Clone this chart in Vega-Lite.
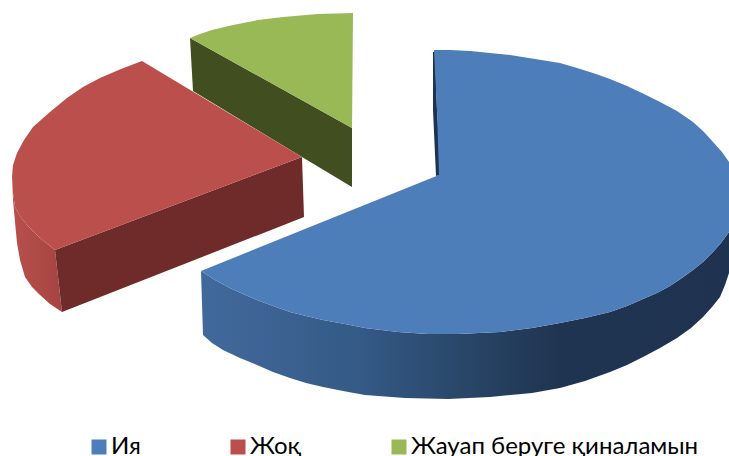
{"$schema":"https://vega.github.io/schema/vega-lite/v6.json","width":729,"height":456,"padding":0,"autosize":{"type":"fit","contains":"padding"},"background":"white","config":{"view":{"stroke":null}},
"datasets":{"outline":[
{"part":"gd","slice":"Жауап беруге қиналамын","i":0,"x":190,"y":38},{"part":"gd","slice":"Жауап беруге қиналамын","i":1,"x":352,"y":128},{"part":"gd","slice":"Жауап беруге қиналамын","i":2,"x":352,"y":187},{"part":"gd","slice":"Жауап беруге қиналамын","i":3,"x":302,"y":157},{"part":"gd","slice":"Жауап беруге қиналамын","i":4,"x":193,"y":91},
{"part":"rf","slice":"Жоқ","i":0,"x":55,"y":250},{"part":"rf","slice":"Жоқ","i":1,"x":302,"y":157},{"part":"rf","slice":"Жоқ","i":2,"x":304,"y":217},{"part":"rf","slice":"Жоқ","i":3,"x":62,"y":312},
{"part":"rl","slice":"Жоқ","i":0,"x":12,"y":177},{"part":"rl","slice":"Жоқ","i":1,"x":13,"y":193},{"part":"rl","slice":"Жоқ","i":2,"x":15,"y":207},{"part":"rl","slice":"Жоқ","i":3,"x":20,"y":216},{"part":"rl","slice":"Жоқ","i":4,"x":27,"y":225},{"part":"rl","slice":"Жоқ","i":5,"x":40,"y":238},{"part":"rl","slice":"Жоқ","i":6,"x":55,"y":250},{"part":"rl","slice":"Жоқ","i":7,"x":62,"y":312},{"part":"rl","slice":"Жоқ","i":8,"x":50,"y":304},{"part":"rl","slice":"Жоқ","i":9,"x":40,"y":295},{"part":"rl","slice":"Жоқ","i":10,"x":32,"y":287},{"part":"rl","slice":"Жоқ","i":11,"x":25,"y":277},{"part":"rl","slice":"Жоқ","i":12,"x":20,"y":260},{"part":"rl","slice":"Жоқ","i":13,"x":17,"y":243},{"part":"rl","slice":"Жоқ","i":14,"x":15,"y":222},{"part":"rl","slice":"Жоқ","i":15,"x":13,"y":200},
{"part":"bs","slice":"Ия","i":0,"x":433,"y":52},{"part":"bs","slice":"Ия","i":1,"x":433,"y":110},{"part":"bs","slice":"Ия","i":2,"x":436,"y":176},{"part":"bs","slice":"Ия","i":3,"x":441,"y":175},{"part":"bs","slice":"Ия","i":4,"x":437,"y":110},{"part":"bs","slice":"Ия","i":5,"x":435,"y":52},
{"part":"bo","slice":"Ия","i":0,"x":201,"y":271},{"part":"bo","slice":"Ия","i":1,"x":215,"y":280},{"part":"bo","slice":"Ия","i":2,"x":230,"y":288},{"part":"bo","slice":"Ия","i":3,"x":243,"y":294},{"part":"bo","slice":"Ия","i":4,"x":257,"y":300},{"part":"bo","slice":"Ия","i":5,"x":273,"y":306},{"part":"bo","slice":"Ия","i":6,"x":290,"y":312},{"part":"bo","slice":"Ия","i":7,"x":306,"y":316},{"part":"bo","slice":"Ия","i":8,"x":323,"y":320},{"part":"bo","slice":"Ия","i":9,"x":345,"y":324},{"part":"bo","slice":"Ия","i":10,"x":365,"y":328},{"part":"bo","slice":"Ия","i":11,"x":398,"y":332},{"part":"bo","slice":"Ия","i":12,"x":428,"y":334},{"part":"bo","slice":"Ия","i":13,"x":458,"y":334},{"part":"bo","slice":"Ия","i":14,"x":500,"y":332},{"part":"bo","slice":"Ия","i":15,"x":532,"y":328},{"part":"bo","slice":"Ия","i":16,"x":560,"y":323},{"part":"bo","slice":"Ия","i":17,"x":585,"y":318},{"part":"bo","slice":"Ия","i":18,"x":610,"y":312},{"part":"bo","slice":"Ия","i":19,"x":627,"y":306},{"part":"bo","slice":"Ия","i":20,"x":643,"y":299},{"part":"bo","slice":"Ия","i":21,"x":657,"y":293},{"part":"bo","slice":"Ия","i":22,"x":670,"y":286},{"part":"bo","slice":"Ия","i":23,"x":682,"y":278},{"part":"bo","slice":"Ия","i":24,"x":693,"y":270},{"part":"bo","slice":"Ия","i":25,"x":703,"y":262},{"part":"bo","slice":"Ия","i":26,"x":713,"y":252},{"part":"bo","slice":"Ия","i":27,"x":721,"y":243},{"part":"bo","slice":"Ия","i":28,"x":729,"y":232},{"part":"bo","slice":"Ия","i":29,"x":729,"y":273},{"part":"bo","slice":"Ия","i":30,"x":725,"y":285},{"part":"bo","slice":"Ия","i":31,"x":720,"y":297},{"part":"bo","slice":"Ия","i":32,"x":712,"y":307},{"part":"bo","slice":"Ия","i":33,"x":703,"y":317},{"part":"bo","slice":"Ия","i":34,"x":691,"y":328},{"part":"bo","slice":"Ия","i":35,"x":677,"y":338},{"part":"bo","slice":"Ия","i":36,"x":660,"y":348},{"part":"bo","slice":"Ия","i":37,"x":643,"y":357},{"part":"bo","slice":"Ия","i":38,"x":627,"y":365},{"part":"bo","slice":"Ия","i":39,"x":610,"y":372},{"part":"bo","slice":"Ия","i":40,"x":585,"y":381},{"part":"bo","slice":"Ия","i":41,"x":560,"y":388},{"part":"bo","slice":"Ия","i":42,"x":532,"y":393},{"part":"bo","slice":"Ия","i":43,"x":490,"y":397},{"part":"bo","slice":"Ия","i":44,"x":448,"y":399},{"part":"bo","slice":"Ия","i":45,"x":405,"y":398},{"part":"bo","slice":"Ия","i":46,"x":365,"y":395},{"part":"bo","slice":"Ия","i":47,"x":343,"y":391},{"part":"bo","slice":"Ия","i":48,"x":323,"y":387},{"part":"bo","slice":"Ия","i":49,"x":306,"y":383},{"part":"bo","slice":"Ия","i":50,"x":290,"y":378},{"part":"bo","slice":"Ия","i":51,"x":273,"y":372},{"part":"bo","slice":"Ия","i":52,"x":257,"y":365},{"part":"bo","slice":"Ия","i":53,"x":240,"y":358},{"part":"bo","slice":"Ия","i":54,"x":223,"y":350},{"part":"bo","slice":"Ия","i":55,"x":212,"y":343},{"part":"bo","slice":"Ия","i":56,"x":203,"y":335},
{"part":"top","slice":"Жауап беруге қиналамын","i":0,"x":190,"y":38},{"part":"top","slice":"Жауап беруге қиналамын","i":1,"x":200,"y":34},{"part":"top","slice":"Жауап беруге қиналамын","i":2,"x":212,"y":30},{"part":"top","slice":"Жауап беруге қиналамын","i":3,"x":233,"y":25},{"part":"top","slice":"Жауап беруге қиналамын","i":4,"x":258,"y":20},{"part":"top","slice":"Жауап беруге қиналамын","i":5,"x":283,"y":17},{"part":"top","slice":"Жауап беруге қиналамын","i":6,"x":318,"y":14},{"part":"top","slice":"Жауап беруге қиналамын","i":7,"x":353,"y":13},{"part":"top","slice":"Жауап беруге қиналамын","i":8,"x":352,"y":128},
{"part":"top","slice":"Жоқ","i":0,"x":142,"y":61},{"part":"top","slice":"Жоқ","i":1,"x":121,"y":69},{"part":"top","slice":"Жоқ","i":2,"x":100,"y":78},{"part":"top","slice":"Жоқ","i":3,"x":83,"y":87},{"part":"top","slice":"Жоқ","i":4,"x":67,"y":98},{"part":"top","slice":"Жоқ","i":5,"x":50,"y":112},{"part":"top","slice":"Жоқ","i":6,"x":33,"y":127},{"part":"top","slice":"Жоқ","i":7,"x":24,"y":140},{"part":"top","slice":"Жоқ","i":8,"x":17,"y":153},{"part":"top","slice":"Жоқ","i":9,"x":13,"y":165},{"part":"top","slice":"Жоқ","i":10,"x":12,"y":177},{"part":"top","slice":"Жоқ","i":11,"x":13,"y":193},{"part":"top","slice":"Жоқ","i":12,"x":15,"y":207},{"part":"top","slice":"Жоқ","i":13,"x":20,"y":216},{"part":"top","slice":"Жоқ","i":14,"x":27,"y":225},{"part":"top","slice":"Жоқ","i":15,"x":40,"y":238},{"part":"top","slice":"Жоқ","i":16,"x":55,"y":250},{"part":"top","slice":"Жоқ","i":17,"x":302,"y":157},
{"part":"top","slice":"Ия","i":0,"x":434,"y":50},{"part":"top","slice":"Ия","i":1,"x":450,"y":50},{"part":"top","slice":"Ия","i":2,"x":470,"y":51},{"part":"top","slice":"Ия","i":3,"x":490,"y":53},{"part":"top","slice":"Ия","i":4,"x":510,"y":55},{"part":"top","slice":"Ия","i":5,"x":535,"y":59},{"part":"top","slice":"Ия","i":6,"x":560,"y":63},{"part":"top","slice":"Ия","i":7,"x":577,"y":68},{"part":"top","slice":"Ия","i":8,"x":593,"y":73},{"part":"top","slice":"Ия","i":9,"x":610,"y":79},{"part":"top","slice":"Ия","i":10,"x":627,"y":86},{"part":"top","slice":"Ия","i":11,"x":644,"y":94},{"part":"top","slice":"Ия","i":12,"x":660,"y":102},{"part":"top","slice":"Ия","i":13,"x":677,"y":111},{"part":"top","slice":"Ия","i":14,"x":693,"y":122},{"part":"top","slice":"Ия","i":15,"x":704,"y":132},{"part":"top","slice":"Ия","i":16,"x":713,"y":142},{"part":"top","slice":"Ия","i":17,"x":722,"y":152},{"part":"top","slice":"Ия","i":18,"x":729,"y":162},{"part":"top","slice":"Ия","i":19,"x":729,"y":232},{"part":"top","slice":"Ия","i":20,"x":721,"y":243},{"part":"top","slice":"Ия","i":21,"x":713,"y":252},{"part":"top","slice":"Ия","i":22,"x":703,"y":262},{"part":"top","slice":"Ия","i":23,"x":693,"y":270},{"part":"top","slice":"Ия","i":24,"x":682,"y":278},{"part":"top","slice":"Ия","i":25,"x":670,"y":286},{"part":"top","slice":"Ия","i":26,"x":657,"y":293},{"part":"top","slice":"Ия","i":27,"x":643,"y":299},{"part":"top","slice":"Ия","i":28,"x":627,"y":306},{"part":"top","slice":"Ия","i":29,"x":610,"y":312},{"part":"top","slice":"Ия","i":30,"x":585,"y":318},{"part":"top","slice":"Ия","i":31,"x":560,"y":323},{"part":"top","slice":"Ия","i":32,"x":532,"y":328},{"part":"top","slice":"Ия","i":33,"x":500,"y":332},{"part":"top","slice":"Ия","i":34,"x":458,"y":334},{"part":"top","slice":"Ия","i":35,"x":428,"y":334},{"part":"top","slice":"Ия","i":36,"x":398,"y":332},{"part":"top","slice":"Ия","i":37,"x":365,"y":328},{"part":"top","slice":"Ия","i":38,"x":345,"y":324},{"part":"top","slice":"Ия","i":39,"x":323,"y":320},{"part":"top","slice":"Ия","i":40,"x":306,"y":316},{"part":"top","slice":"Ия","i":41,"x":290,"y":312},{"part":"top","slice":"Ия","i":42,"x":273,"y":306},{"part":"top","slice":"Ия","i":43,"x":257,"y":300},{"part":"top","slice":"Ия","i":44,"x":243,"y":294},{"part":"top","slice":"Ия","i":45,"x":230,"y":288},{"part":"top","slice":"Ия","i":46,"x":215,"y":280},{"part":"top","slice":"Ия","i":47,"x":201,"y":271},{"part":"top","slice":"Ия","i":48,"x":439,"y":175},{"part":"top","slice":"Ия","i":49,"x":437,"y":110}
]},
"data":{"name":"outline"},
"encoding":{
"x":{"field":"x","type":"quantitative","axis":null,"scale":{"domain":[0,729],"nice":false,"zero":false}},
"y":{"field":"y","type":"quantitative","axis":null,"scale":{"domain":[456,0],"nice":false,"zero":false}},
"order":{"field":"i","type":"quantitative"}},
"layer":[
{"transform":[{"filter":"datum.part==='gd'"}],"mark":{"type":"line","filled":true,"fill":"#414f20","strokeWidth":0}},
{"transform":[{"filter":"datum.part==='rl'"}],"mark":{"type":"line","filled":true,"fill":{"gradient":"linear","x1":0,"x2":1,"y1":0,"y2":0,"stops":[{"offset":0,"color":"#b8504c"},{"offset":1,"color":"#a64441"}]},"strokeWidth":0}},
{"transform":[{"filter":"datum.part==='rf'"}],"mark":{"type":"line","filled":true,"fill":"#6f2a2a","strokeWidth":0}},
{"transform":[{"filter":"datum.part==='bs'"}],"mark":{"type":"line","filled":true,"fill":"#1e3350","strokeWidth":0}},
{"transform":[{"filter":"datum.part==='bo'"}],"mark":{"type":"line","filled":true,"fill":{"gradient":"linear","x1":0,"x2":1,"y1":0,"y2":0,"stops":[{"offset":0,"color":"#41699b"},{"offset":0.3,"color":"#345a86"},{"offset":0.5,"color":"#294668"},{"offset":0.68,"color":"#1f3450"},{"offset":1,"color":"#1f3350"}]},"strokeWidth":0}},
{"transform":[{"filter":"datum.part==='top'"}],"mark":{"type":"line","filled":true,"strokeWidth":0},
"encoding":{"color":{"field":"slice","type":"nominal","scale":{"domain":["Ия","Жоқ","Жауап беруге қиналамын"],"range":["#4d7eb9","#bb4f4b","#98b956"]},
"legend":{"title":null,"orient":"none","legendX":87,"legendY":435,"direction":"horizontal","columns":3,"symbolType":"square","symbolSize":225,"symbolStrokeWidth":0,"labelFont":"Lato","labelFontSize":24,"labelColor":"#000000","labelLimit":400,"labelOffset":0,"columnPadding":85,"padding":0}}}}
]}
